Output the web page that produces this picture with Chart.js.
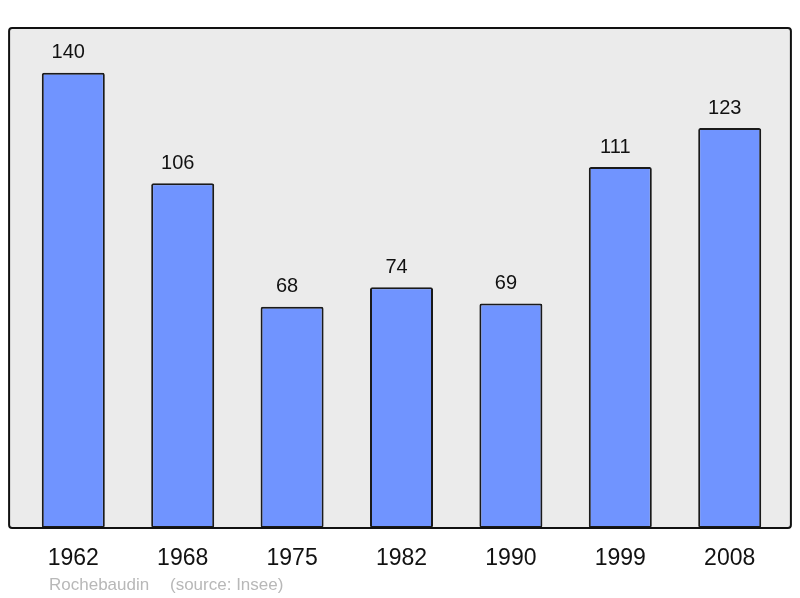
<!DOCTYPE html>
<html>
<head>
<meta charset="utf-8">
<script src="https://cdn.jsdelivr.net/npm/chart.js@4"></script>
<style>
  html, body { margin: 0; padding: 0; background: #ffffff; }
  #wrap { width: 800px; height: 598px; position: relative; }
</style>
</head>
<body>
<div id="wrap"><canvas id="c" width="800" height="598"></canvas></div>
<script>
const years = ['1962', '1968', '1975', '1982', '1990', '1999', '2008'];
const population = [140, 106, 68, 74, 69, 111, 123];
const placeName = 'Rochebaudin';
const sourceText = '(source: Insee)';

const FONT = '"Liberation Sans", Arial, sans-serif';

const framePlugin = {
  id: 'frame',
  beforeDatasetsDraw(chart) {
    const a = chart.chartArea, ctx = chart.ctx;
    ctx.save();
    ctx.fillStyle = '#ebebeb';
    ctx.beginPath();
    ctx.roundRect(a.left - 9.5, a.top, (a.right + 6.5) - (a.left - 9.5), a.bottom - a.top, 3);
    ctx.fill();
    ctx.restore();
  },
  afterDatasetsDraw(chart) {
    const a = chart.chartArea, ctx = chart.ctx;
    ctx.save();
    // value labels
    const meta = chart.getDatasetMeta(0);
    ctx.fillStyle = '#111111';
    ctx.font = '20px ' + FONT;
    ctx.textAlign = 'center';
    ctx.textBaseline = 'alphabetic';
    meta.data.forEach((bar, i) => {
      ctx.fillText(String(population[i]), bar.x - 5, bar.y - 14.5);
    });
    // frame border
    ctx.strokeStyle = '#111111';
    ctx.lineWidth = 2;
    ctx.beginPath();
    ctx.roundRect(a.left - 9.5, a.top, (a.right + 6.5) - (a.left - 9.5), a.bottom - a.top, 3);
    ctx.stroke();
    // source line
    ctx.fillStyle = '#b8b8b8';
    ctx.font = '17px ' + FONT;
    ctx.textAlign = 'left';
    ctx.textBaseline = 'middle';
    ctx.fillText(placeName, 49, 585);
    ctx.fillText(sourceText, 170, 585);
    ctx.restore();
  }
};

new Chart(document.getElementById('c'), {
  type: 'bar',
  data: {
    labels: years,
    datasets: [{
      data: population,
      backgroundColor: '#7094ff',
      borderColor: '#1a1a1a',
      borderWidth: 2,
      borderRadius: 2,
      borderSkipped: false,
      categoryPercentage: 1,
      barPercentage: 0.576
    }]
  },
  options: {
    responsive: false,
    animation: false,
    devicePixelRatio: 1,
    layout: { padding: { left: 18.6, right: 15.6, top: 28, bottom: 0 } },
    plugins: { legend: { display: false }, tooltip: { enabled: false }, title: { display: false } },
    scales: {
      x: {
        grid: { display: false, drawTicks: false },
        border: { display: false },
        ticks: { color: '#111111', font: { family: FONT, size: 23 }, padding: 16.5 },
        afterFit(scale) { scale.height = 70; }
      },
      y: {
        display: false,
        min: 0,
        max: 153.75
      }
    }
  },
  plugins: [framePlugin]
});
</script>
</body>
</html>
